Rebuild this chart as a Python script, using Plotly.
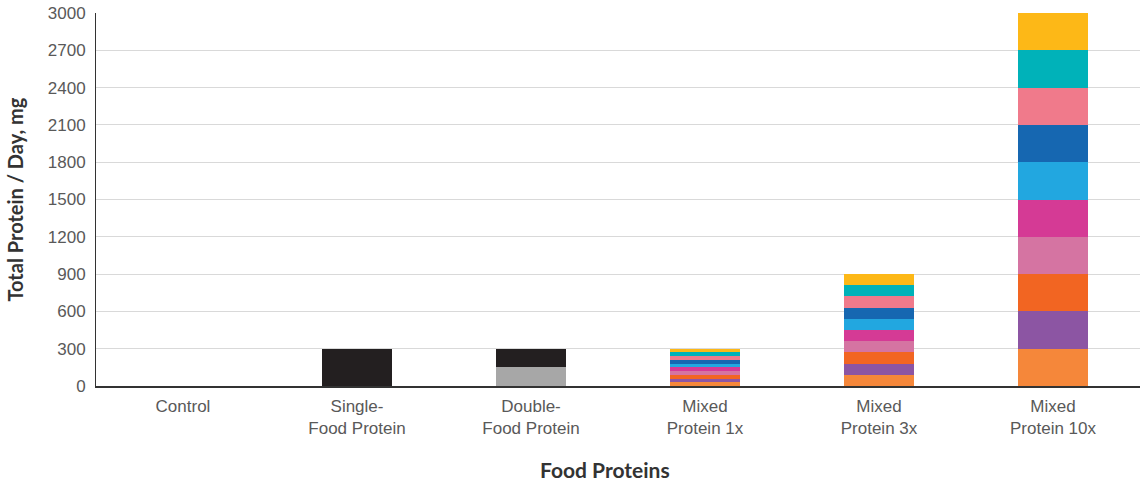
import plotly.graph_objects as go

# Categories on the x axis
categories = [
    "Control",
    "Single-<br>Food Protein",
    "Double-<br>Food Protein",
    "Mixed<br>Protein 1x",
    "Mixed<br>Protein 3x",
    "Mixed<br>Protein 10x",
]

# Single-food and double-food doses (mg/day)
single_food = [0, 300, 0, 0, 0, 0]
double_food_base = [0, 0, 150, 0, 0, 0]
double_food_top = [0, 0, 150, 0, 0, 0]

# Mixed-protein doses: ten foods, each the same amount per group (mg/day)
mixed_per_food = [0, 0, 0, 30, 90, 300]
mixed_food_count = 10

# Colours, bottom to top of the stack
mixed_colors = [
    "#F5873A",  # orange
    "#8C55A3",  # purple
    "#F26522",  # orange-red
    "#D574A2",  # mauve
    "#D53A95",  # magenta
    "#22A7E0",  # light blue
    "#1667B1",  # blue
    "#F07A8B",  # salmon
    "#00B2B9",  # teal
    "#FDB817",  # yellow
]
black = "#231F20"
grey = "#A7A7A7"

fig = go.Figure()

fig.add_bar(x=categories, y=single_food, marker_color=black, name="Single food")
fig.add_bar(x=categories, y=double_food_base, marker_color=grey, name="Double food A")
fig.add_bar(x=categories, y=double_food_top, marker_color=black, name="Double food B")
for k in range(mixed_food_count):
    fig.add_bar(
        x=categories,
        y=mixed_per_food,
        marker_color=mixed_colors[k],
        name=f"Food {k + 1}",
    )

fig.update_traces(marker_line_width=0)

tick_font = dict(family="Liberation Sans", size=17, color="#595959")

fig.update_layout(
    barmode="stack",
    bargap=0.6,
    showlegend=False,
    width=1141,
    height=483,
    margin=dict(l=96, r=1, t=13, b=97),
    plot_bgcolor="white",
    paper_bgcolor="white",
    font=tick_font,
    xaxis=dict(
        showline=True,
        linecolor="#333333",
        linewidth=1.5,
        ticks="",
        tickfont=tick_font,
        ticklabelstandoff=4,
    ),
    yaxis=dict(
        range=[0, 3000],
        tickmode="array",
        tickvals=list(range(0, 3001, 300)),
        ticktext=[str(v) for v in range(0, 3001, 300)],
        showgrid=True,
        gridcolor="#D9D9D9",
        gridwidth=1,
        zeroline=False,
        showline=True,
        linecolor="#333333",
        linewidth=1,
        ticks="",
        ticklabelstandoff=6,
        tickfont=tick_font,
    ),
    annotations=[
        dict(
            text="<b>Total Protein / Day, mg</b>",
            xref="paper", yref="paper",
            x=-0.0785, y=0.5,
            xanchor="center", yanchor="middle",
            textangle=-90,
            showarrow=False,
            font=dict(family="Lato", size=20, color="#333333"),
        ),
        dict(
            text="<b>Food Proteins</b>",
            xref="paper", yref="paper",
            x=0.488, y=-0.225,
            xanchor="center", yanchor="middle",
            showarrow=False,
            font=dict(family="Lato", size=21, color="#333333"),
        ),
    ],
)

fig.write_html("out.html")
